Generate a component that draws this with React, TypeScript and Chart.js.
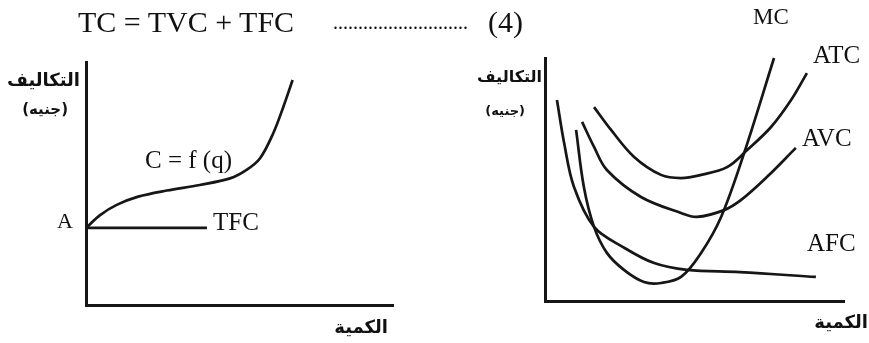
import React, { useEffect, useRef } from "react";
import { Chart, registerables } from "chart.js";

Chart.register(...registerables);

// ---------- data (cost units vs quantity units) ----------
// Left panel: total cost curve and total fixed cost
const TC_Q = [0, 4.6, 10.0, 17.0, 26.3, 37.1, 46.9, 52.3, 56.7, 61.0, 64.3, 67.3];
const TC_COST = [31.7, 37.0, 41.2, 44.6, 47.1, 49.4, 52.1, 55.6, 60.4, 70.7, 81.6, 92.6];
const TFC_Q = [0, 39.4];
const TFC_COST = [31.7, 31.7];

// Right panel: average and marginal cost curves
const AFC_Q = [4.0, 6.4, 9.7, 16.4, 26.1, 36.5, 47.5, 65.2, 90.6];
const AFC_COST = [82.7, 65.0, 46.9, 30.5, 22.2, 15.6, 12.8, 11.9, 9.9];
const MC_Q = [10.4, 13.0, 16.4, 20.7, 26.4, 33.1, 38.8, 45.5, 52.2, 58.9, 66.6, 76.6];
const MC_COST = [70.4, 46.9, 30.5, 19.8, 12.8, 7.8, 7.4, 9.9, 19.8, 34.6, 60.9, 100];
const AVC_Q = [12.4, 16.4, 20.7, 32.1, 45.5, 50.8, 59.9, 65.6, 74.2, 83.9];
const AVC_COST = [73.7, 63.4, 53.9, 42.8, 36.2, 34.6, 37.4, 41.6, 51.0, 63.0];
const ATC_Q = [16.4, 22.1, 29.8, 38.8, 45.5, 52.2, 60.9, 67.6, 75.6, 82.3, 87.6];
const ATC_COST = [79.8, 70.4, 59.3, 51.9, 50.6, 51.9, 55.1, 62.1, 71.6, 82.7, 93.8];

const INK = "#161616";
const SERIF = "'Liberation Serif', 'Times New Roman', serif";
const ARABIC = "'DejaVu Sans', sans-serif";

function series(xs: number[], ys: number[]) {
  return {
    data: xs.map((x, i) => ({ x, y: ys[i] })),
    borderColor: INK,
    borderWidth: 2.7,
    pointRadius: 0,
    fill: false,
    tension: 0.35,
    clip: false as any,
  };
}

function axis() {
  return {
    type: "linear" as const,
    min: 0,
    max: 100,
    grid: { display: false, drawTicks: false },
    ticks: { display: false },
    border: { display: true, color: INK, width: 3 },
  };
}

function config(datasets: any[], padding: any): any {
  return {
    type: "line",
    data: { datasets },
    options: {
      animation: false,
      responsive: false,
      events: [],
      layout: { padding },
      plugins: {
        legend: { display: false },
        tooltip: { enabled: false },
        title: { display: false },
      },
      scales: { x: axis(), y: axis() },
    },
  };
}

function Txt(props: {
  children: React.ReactNode;
  left?: number;
  right?: number;
  cy: number;
  size: number;
  family?: string;
  bold?: boolean;
  rtl?: boolean;
  spacing?: number;
}) {
  const { children, left, right, cy, size, family, bold, rtl, spacing } = props;
  const style: React.CSSProperties = {
    position: "absolute",
    top: cy - size * 0.51,
    fontSize: size,
    lineHeight: 1,
    fontFamily: family || SERIF,
    fontWeight: bold ? 700 : 400,
    whiteSpace: "nowrap",
    color: "#111",
    letterSpacing: spacing,
    direction: rtl ? "rtl" : "ltr",
  };
  if (left !== undefined) style.left = left;
  if (right !== undefined) style.right = 869 - right;
  return <div style={style}>{children}</div>;
}

export default function App() {
  const leftRef = useRef<HTMLCanvasElement>(null);
  const rightRef = useRef<HTMLCanvasElement>(null);

  useEffect(() => {
    const c1 = new Chart(
      leftRef.current!,
      config([series(TC_Q, TC_COST), series(TFC_Q, TFC_COST)], {
        left: 86,
        right: 42,
        top: 62,
        bottom: 38,
      })
    );
    const c2 = new Chart(
      rightRef.current!,
      config(
        [
          series(AFC_Q, AFC_COST),
          series(MC_Q, MC_COST),
          series(AVC_Q, AVC_COST),
          series(ATC_Q, ATC_COST),
        ],
        { left: 105, right: 25, top: 58, bottom: 42 }
      )
    );
    return () => {
      c1.destroy();
      c2.destroy();
    };
  }, []);

  return (
    <div
      style={{
        position: "fixed",
        left: 0,
        top: 0,
        width: 869,
        height: 343,
        background: "#fff",
        overflow: "hidden",
      }}
    >
      <canvas
        ref={leftRef}
        width={435}
        height={343}
        style={{ position: "absolute", left: 0, top: 0 }}
      />
      <canvas
        ref={rightRef}
        width={429}
        height={343}
        style={{ position: "absolute", left: 440, top: 0 }}
      />

      {/* equation line */}
      <Txt left={78} cy={22} size={30}>TC = TVC + TFC</Txt>
      <Txt left={333} cy={22} size={20}>...........................</Txt>
      <Txt left={488} cy={22} size={30}>(4)</Txt>

      {/* left panel */}
      <Txt right={80} cy={80} size={18} family={ARABIC} bold rtl>التكاليف</Txt>
      <Txt right={68} cy={110} size={15} family={ARABIC} bold rtl>(جنيه)</Txt>
      <Txt right={388} cy={327} size={18} family={ARABIC} bold rtl>الكمية</Txt>
      <Txt left={57} cy={221} size={22}>A</Txt>
      <Txt left={213} cy={222} size={25}>TFC</Txt>
      <Txt left={145} cy={160} size={25}>C = f (q)</Txt>

      {/* right panel */}
      <Txt right={542} cy={77} size={16} family={ARABIC} bold rtl>التكاليف</Txt>
      <Txt right={525} cy={111} size={13} family={ARABIC} bold rtl>(جنيه)</Txt>
      <Txt right={868} cy={322} size={18} family={ARABIC} bold rtl>الكمية</Txt>
      <Txt left={753} cy={17} size={23}>MC</Txt>
      <Txt left={813} cy={55} size={25}>ATC</Txt>
      <Txt left={802} cy={138} size={25}>AVC</Txt>
      <Txt left={807} cy={243} size={25}>AFC</Txt>
    </div>
  );
}
